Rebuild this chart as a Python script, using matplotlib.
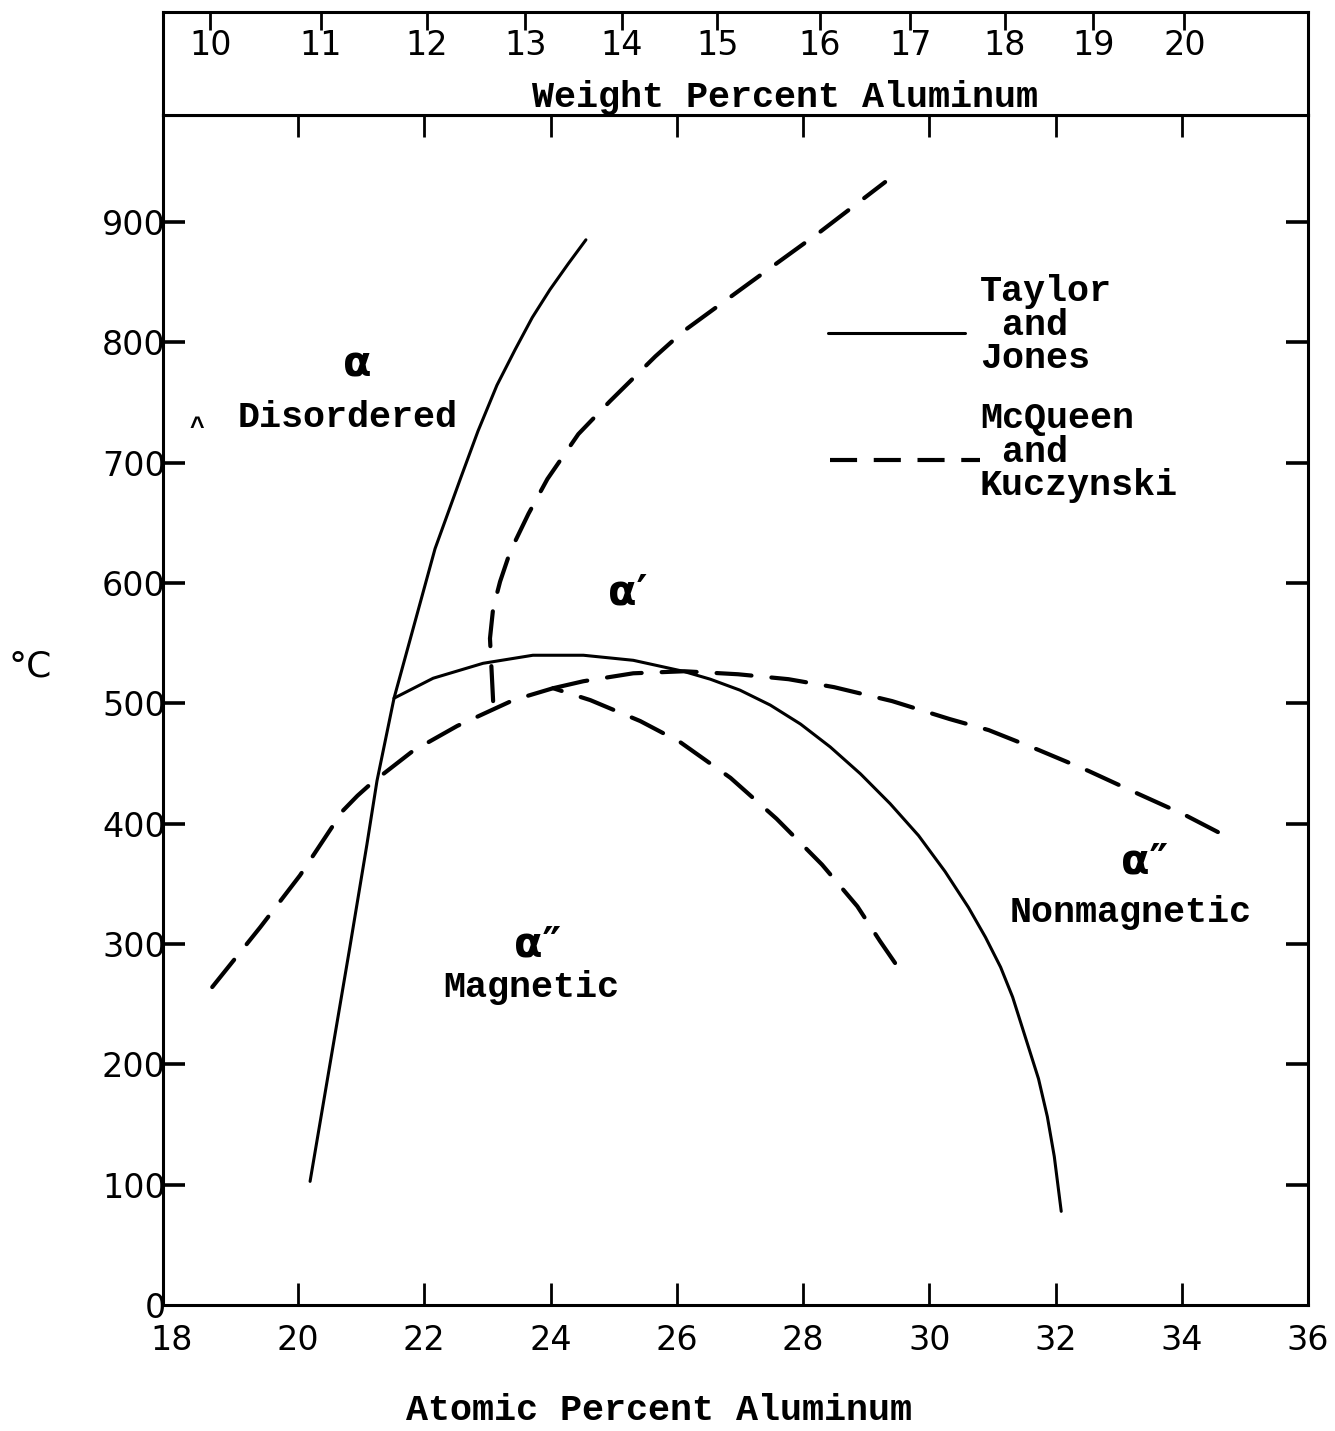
import matplotlib
matplotlib.use("Agg")
import matplotlib.pyplot as plt

# Taylor and Jones (solid)
tj_left_at = [20.19, 20.82, 21.09, 21.25, 21.52, 22.17, 22.57, 22.85, 23.15, 23.44, 23.71,
              23.99, 24.28, 24.56]
tj_left_t = [102.7, 297.3, 382.6, 435.6, 504.3, 628.6, 686.5, 726.3, 764.4, 794.2, 820.7,
             843.9, 865.4, 885.3]

tj_dome_at = [21.52, 22.14, 22.93, 23.72, 24.52, 25.31, 26.10, 26.53, 27.00, 27.48, 27.96,
              28.43, 28.91, 29.38, 29.83, 30.25, 30.62, 30.89, 31.13, 31.32, 31.52, 31.73,
              31.87, 31.98, 32.09]
tj_dome_t = [504.3, 520.9, 533.3, 540.0, 540.0, 535.8, 526.7, 520.1, 511.0, 498.6, 482.8,
             463.8, 441.4, 416.6, 390.1, 360.2, 330.4, 305.6, 280.7, 255.9, 222.8, 188.0,
             156.5, 123.4, 77.8]

# McQueen and Kuczynski (dashed)
mk_upper_at = [23.09, 23.04, 23.09, 23.20, 23.36, 23.65, 23.95, 24.44, 24.94, 25.66, 26.10,
               27.16, 28.27, 29.30]
mk_upper_t = [501.9, 554.0, 578.9, 601.2, 626.1, 657.6, 686.5, 723.8, 751.1, 788.4, 809.1,
              849.7, 891.9, 933.3]

mk_dome_at = [18.64, 19.40, 20.03, 20.71, 20.94, 21.17, 21.82, 22.52, 23.41, 24.04, 24.63,
              25.42, 26.05, 26.85, 27.58, 28.30, 28.86, 29.22, 29.59]
mk_dome_t = [264.2, 313.9, 357.0, 410.8, 423.2, 434.0, 460.5, 481.2, 502.7, 512.6, 502.7,
             485.3, 467.9, 438.1, 404.1, 366.0, 331.3, 302.3, 274.1]

mk_long_at = [24.04, 24.52, 25.31, 26.12, 26.97, 27.77, 28.49, 29.41, 30.32, 30.94, 31.73,
              32.52, 33.31, 34.04, 34.68]
mk_long_t = [512.6, 518.4, 525.0, 526.7, 524.2, 520.1, 513.5, 501.9, 487.0, 477.8, 461.3,
             443.9, 424.8, 407.5, 390.1]

# axes ticks
at_ticks = [18, 20, 22, 24, 26, 28, 30, 32, 34, 36]
temp_ticks = [0, 100, 200, 300, 400, 500, 600, 700, 800, 900]
wt_labels = ["10", "11", "12", "13", "14", "15", "16", "17", "18", "19", "20"]
wt_pos = [18.61, 20.36, 22.04, 23.60, 25.13, 26.64, 28.27, 29.70, 31.20, 32.60, 34.04]

TW = "Liberation Mono"
tw_size = 26.5
num_size = 24

plt.rcParams['font.family'] = ['DejaVu Sans']

fig = plt.figure(figsize=(13.35, 14.31), dpi=100)
ax = fig.add_axes([0.1221, 0.0881, 0.8577, 0.8315])
axw = fig.add_axes([0.1221, 0.9196, 0.8577, 0.072])

solid = dict(color='black', lw=2.2, solid_capstyle='round', solid_joinstyle='round')
dashed = dict(color='black', lw=3.0, ls=(0, (8.4, 4.8)), dash_capstyle='round')

ax.plot(tj_left_at, tj_left_t, **solid)
ax.plot(tj_dome_at, tj_dome_t, **solid)
ax.plot(mk_upper_at, mk_upper_t, **dashed)
ax.plot(mk_dome_at, mk_dome_t, **dashed)
ax.plot(mk_long_at, mk_long_t, **dashed)

ax.set_xlim(17.86, 36.0)
ax.set_ylim(0, 989)
ax.set_xticks(at_ticks)
ax.set_xticklabels([str(v) for v in at_ticks], fontsize=num_size)
ax.set_yticks(temp_ticks)
ax.set_yticklabels([str(v) for v in temp_ticks], fontsize=num_size)
ax.tick_params(axis='x', direction='in', length=16, width=2.0, top=True, pad=14)
ax.tick_params(axis='y', direction='in', length=16, width=2.6, right=True, pad=-2)
ax.xaxis.get_major_ticks()[0].tick1line.set_visible(False)
ax.xaxis.get_major_ticks()[0].tick2line.set_visible(False)
ax.xaxis.get_major_ticks()[-1].tick2line.set_visible(False)
ax.yaxis.get_major_ticks()[0].tick1line.set_visible(False)
ax.yaxis.get_major_ticks()[0].tick2line.set_visible(False)
for s in ax.spines.values():
    s.set_linewidth(2.2)

# weight percent band
axw.set_xlim(17.86, 36.0)
axw.set_ylim(0, 1)
axw.set_yticks([])
axw.set_xticks(wt_pos)
axw.set_xticklabels(wt_labels, fontsize=num_size)
axw.tick_params(axis='x', direction='in', length=13, width=2.0, top=True, bottom=False,
                labeltop=True, labelbottom=False, pad=-36)
for s in axw.spines.values():
    s.set_linewidth(2.2)
axw.text(0.543, 0.175, "Weight Percent Aluminum", transform=axw.transAxes,
         family=TW, weight='bold', fontsize=tw_size, ha='center', va='center')

# legend drawn by hand
ax.plot([0.5808, 0.7004], [0.8168, 0.8168], transform=ax.transAxes, **solid)
ax.plot([0.5825, 0.7135], [0.7101, 0.7101], transform=ax.transAxes, color='black', lw=3.0,
        ls=(0, (6.5, 4.0)))
ax.text(0.7135, 0.8235, "Taylor\n and\nJones", transform=ax.transAxes, family=TW,
        weight='bold', fontsize=tw_size, ha='left', va='center', linespacing=0.95)
ax.text(0.7135, 0.7168, "McQueen\n and\nKuczynski", transform=ax.transAxes, family=TW,
        weight='bold', fontsize=tw_size, ha='left', va='center', linespacing=0.95)

# phase labels
greek = dict(transform=ax.transAxes, fontsize=30, weight='bold', ha='center', va='center')
ax.text(0.170, 0.790, "α", **greek)
ax.text(0.406, 0.599, "α′", **greek)
ax.text(0.3275, 0.3025, "α″", **greek)
ax.text(0.8576, 0.3723, "α″", **greek)
words = dict(transform=ax.transAxes, family=TW, weight='bold', fontsize=tw_size,
             ha='center', va='center')
ax.text(0.1616, 0.7454, "Disordered", **words)
ax.text(0.3214, 0.2664, "Magnetic", **words)
ax.text(0.8454, 0.3294, "Nonmagnetic", **words)
ax.text(0.0297, 0.737, "^", transform=ax.transAxes, family=TW, weight='bold',
        fontsize=18, ha='center', va='center')

fig.text(30 / 1335, 1 - 667 / 1431, "°C", fontsize=26, ha='center', va='center')
fig.text(659 / 1335, 1 - 1411 / 1431, "Atomic Percent Aluminum", family=TW, weight='bold',
         fontsize=tw_size, ha='center', va='center')

fig.savefig("out.png", dpi=100)
